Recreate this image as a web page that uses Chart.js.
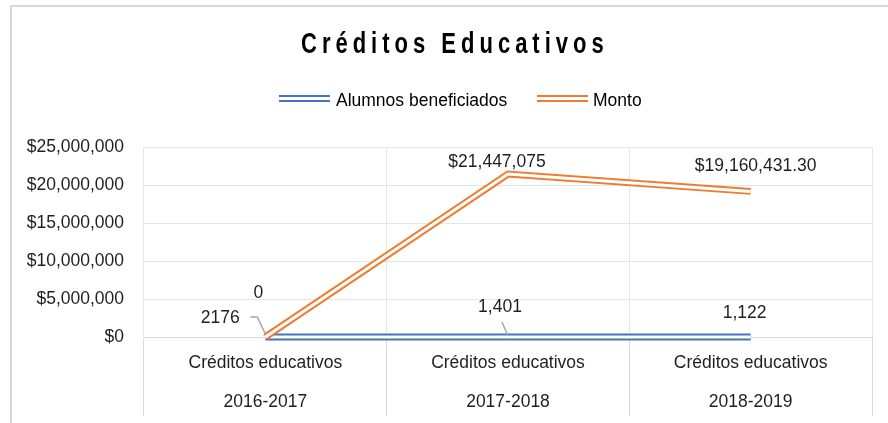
<!DOCTYPE html>
<html>
<head>
<meta charset="utf-8">
<script src="https://cdn.jsdelivr.net/npm/chart.js@4.4.1/dist/chart.umd.min.js"></script>
<style>
  body { margin: 0; background: #fff; font-family: "Liberation Sans", Arial, sans-serif; }
  #wrap { position: relative; width: 888px; height: 423px; overflow: hidden; }
  #frame { position: absolute; left: 10px; top: 5px; width: 900px; height: 440px; border: 2px solid #d9d9d9; box-sizing: border-box; }
  #title { position: absolute; left: 301px; top: 35px; font-size: 22px; line-height: 22px; font-weight: bold;
           letter-spacing: 5px; color: #000; transform: scaleY(1.3); transform-origin: 0 18px; white-space: nowrap; }
  .sw { position: absolute; top: 95px; width: 51px; height: 0; border-top: 7px double; }
  .lg { position: absolute; top: 90px; font-size: 17.5px; line-height: 20px; color: #000; white-space: nowrap; }
  canvas { position: absolute; left: 0; top: 0; }
</style>
</head>
<body>
<div id="wrap">
  <div id="frame"></div>
  <canvas id="chart" width="888" height="423"></canvas>
  <div id="title">Créditos Educativos</div>
  <span class="sw" style="left:279px; border-color:#4472C4"></span>
  <span class="lg" style="left:336px">Alumnos beneficiados</span>
  <span class="sw" style="left:537px; border-color:#ED7D31"></span>
  <span class="lg" style="left:593px">Monto</span>
</div>
<script>
const categories = [
  ['Créditos educativos', '2016-2017'],
  ['Créditos educativos', '2017-2018'],
  ['Créditos educativos', '2018-2019']
];
const alumnos = [2176, 1401, 1122];
const monto = [0, 21447075, 19160431.30];
const alumnosLabels = ['2176', '1,401', '1,122'];
const montoLabels = ['0', '$21,447,075', '$19,160,431.30'];
const yMax = 25000000;
const yStep = 5000000;

// where the value labels sit, relative to their point
const labelPos = {
  0: [[-45, -19], [-8, -30], [-6, -24]],
  1: [[-7, -44], [-11, -12], [5, -25]]
};
const leaders = {
  0: { 0: [[-15, -20], [-8, -20], [0, -3]], 1: [[-6, -15], [0, -1]] }
};

const FONT = '"Liberation Sans", Arial, sans-serif';
const TEXT = '#1f1f1f';
const FS = 17.5;
Chart.defaults.font.family = FONT;

// excel style "double" line: white stroke through the middle of the thick one
const doubleLine = {
  id: 'doubleLine',
  afterDatasetDraw(chart, args) {
    const pts = args.meta.data;
    const ctx = chart.ctx;
    ctx.save();
    ctx.strokeStyle = '#ffffff';
    ctx.lineWidth = 3;
    ctx.lineCap = 'butt';
    ctx.lineJoin = 'miter';
    ctx.beginPath();
    pts.forEach((p, i) => i ? ctx.lineTo(p.x, p.y) : ctx.moveTo(p.x, p.y));
    ctx.stroke();
    ctx.restore();
  }
};

const valueLabels = {
  id: 'valueLabels',
  afterDatasetsDraw(chart) {
    const ctx = chart.ctx;
    ctx.save();
    ctx.font = FS + 'px ' + FONT;
    ctx.fillStyle = TEXT;
    ctx.textAlign = 'center';
    ctx.textBaseline = 'middle';
    chart.data.datasets.forEach((ds, di) => {
      const meta = chart.getDatasetMeta(di);
      meta.data.forEach((p, i) => {
        const lead = leaders[di] && leaders[di][i];
        if (lead) {
          ctx.strokeStyle = '#a6a6a6';
          ctx.lineWidth = 1.5;
          ctx.beginPath();
          lead.forEach((o, k) => k ? ctx.lineTo(p.x + o[0], p.y + o[1]) : ctx.moveTo(p.x + o[0], p.y + o[1]));
          ctx.stroke();
        }
        const off = labelPos[di][i];
        ctx.fillText(ds.valueLabels[i], p.x + off[0], p.y + off[1]);
      });
    });
    ctx.restore();
  }
};

new Chart(document.getElementById('chart'), {
  type: 'line',
  data: {
    labels: categories,
    datasets: [
      {
        label: 'Alumnos beneficiados',
        data: alumnos,
        valueLabels: alumnosLabels,
        borderColor: '#4472C4',
        borderWidth: 7,
        borderCapStyle: 'butt',
        borderJoinStyle: 'miter',
        pointRadius: 0,
        tension: 0,
        clip: false,
        order: 1
      },
      {
        label: 'Monto',
        data: monto,
        valueLabels: montoLabels,
        borderColor: '#ED7D31',
        borderWidth: 7,
        borderCapStyle: 'butt',
        borderJoinStyle: 'miter',
        pointRadius: 0,
        tension: 0,
        clip: false,
        order: 0
      }
    ]
  },
  options: {
    responsive: false,
    animation: false,
    layout: { padding: { top: 147, left: 10, right: 16, bottom: 0 } },
    plugins: {
      legend: { display: false },
      tooltip: { enabled: false }
    },
    scales: {
      x: {
        offset: true,
        grid: { offset: true, color: '#e6e6e6', tickColor: '#d9d9d9', tickLength: 79 },
        border: { color: '#d9d9d9', width: 1 },
        ticks: {
          padding: -72.5,
          color: TEXT,
          maxRotation: 0,
          autoSkip: false,
          font: { size: FS, lineHeight: '39px' }
        },
        afterFit(s) { s.height = 86; }
      },
      y: {
        min: 0,
        max: yMax,
        grid: { color: '#e6e6e6', drawTicks: false },
        border: { display: false },
        ticks: {
          stepSize: yStep,
          padding: 20,
          color: TEXT,
          font: { size: FS },
          callback: v => '$' + v.toLocaleString('en-US')
        },
        afterFit(s) { s.width = 134; }
      }
    }
  },
  plugins: [doubleLine, valueLabels]
});
</script>
</body>
</html>
